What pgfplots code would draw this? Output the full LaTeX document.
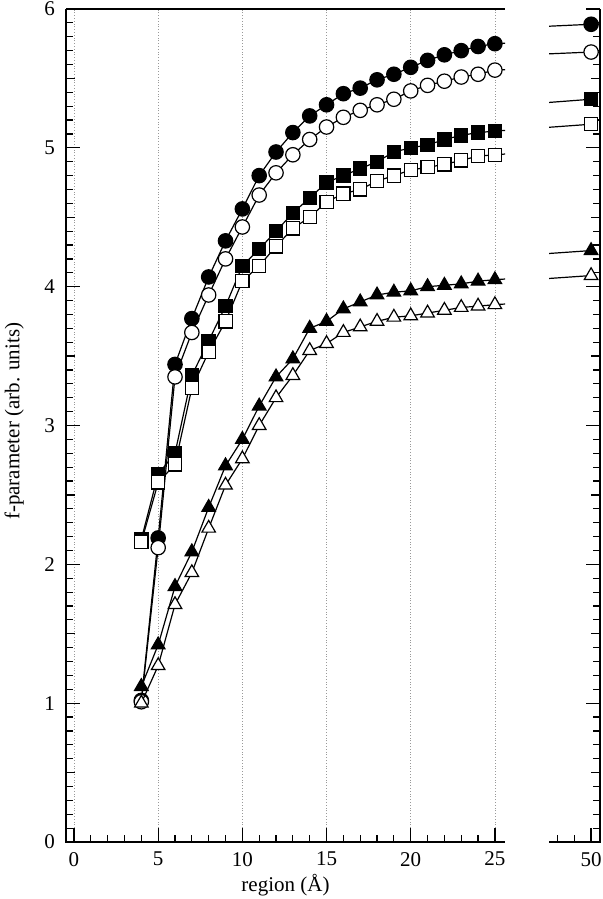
\documentclass[border=0pt]{standalone}
\usepackage{fontspec}
\setmainfont{Liberation Serif}
\usepackage{pgfplots}
\usepackage{pgfplotstable}
\pgfplotsset{compat=1.18}

\pgfplotstableread{
x fc oc fs os ft ot
4 1.02 1.01 2.18 2.16 1.12 1.00
5 2.19 2.12 2.65 2.59 1.42 1.27
6 3.44 3.35 2.80 2.72 1.84 1.71
7 3.77 3.67 3.36 3.27 2.09 1.94
8 4.07 3.94 3.61 3.53 2.41 2.26
9 4.33 4.20 3.86 3.75 2.71 2.57
10 4.56 4.43 4.15 4.04 2.90 2.76
11 4.80 4.66 4.27 4.15 3.14 3.00
12 4.97 4.82 4.40 4.29 3.35 3.20
13 5.11 4.95 4.53 4.42 3.48 3.36
14 5.23 5.06 4.64 4.50 3.70 3.54
15 5.31 5.15 4.75 4.61 3.75 3.59
16 5.39 5.22 4.80 4.67 3.84 3.67
17 5.43 5.27 4.85 4.70 3.89 3.71
18 5.49 5.31 4.90 4.76 3.94 3.75
19 5.53 5.35 4.97 4.80 3.96 3.78
20 5.58 5.41 5.00 4.84 3.97 3.79
21 5.63 5.45 5.02 4.86 4.00 3.81
22 5.67 5.48 5.06 4.88 4.01 3.83
23 5.70 5.51 5.09 4.91 4.02 3.85
24 5.73 5.53 5.11 4.94 4.04 3.86
25 5.75 5.56 5.12 4.95 4.05 3.87
50 5.89 5.69 5.35 5.17 4.26 4.08
}\data

\pgfplotsset{
  common/.style={
    scale only axis, height=416.5pt, ymin=0, ymax=6,
    ytick={0,...,6}, minor y tick num=9,
    extra y ticks={0.5,1.5,2.5,3.5,4.5,5.5},
    extra y tick labels={},
    extra y tick style={major tick length=4.5pt, grid=none},
    tick align=inside,
    major tick length=7pt, minor tick length=3.5pt,
    every tick/.style={black, line width=0.6pt},
    axis line style={draw=none},
    clip mode=individual,
    /pgf/number format/assume math mode=true,
    tick label style={font=\fontsize{10.5}{12}\selectfont},
    label style={font=\fontsize{10.5}{12}\selectfont},
  },
  fc/.style={black, line width=0.6pt, mark=*, mark size=3.6pt, mark options={solid, fill=black, line width=0.6pt}},
  oc/.style={black, line width=0.6pt, mark=*, mark size=3.6pt, mark options={solid, fill=white, line width=0.6pt}},
  fs/.style={black, line width=0.6pt, mark=square*, mark size=3.3pt, mark options={solid, fill=black, line width=0.6pt}},
  os/.style={black, line width=0.6pt, mark=square*, mark size=3.3pt, mark options={solid, fill=white, line width=0.6pt}},
  ft/.style={black, line width=0.6pt, mark=triangle*, mark size=3.9pt, mark options={solid, fill=black, line width=0.6pt}},
  ot/.style={black, line width=0.6pt, mark=triangle*, mark size=3.9pt, mark options={solid, fill=white, line width=0.6pt}},
}

\begin{document}
\begin{tikzpicture}
\useasboundingbox (-33pt,-28.5pt) rectangle (268.5pt,421pt);
\begin{axis}[common,
  width=219.5pt, xmin=-0.475, xmax=25.6,
  xtick={0,5,...,25}, minor x tick num=4,
  xtick pos=bottom, ytick pos=left,
  xmajorgrids, grid style={densely dotted, gray!80, line width=0.4pt},
  xlabel={region (Å)},
  xlabel style={at={(axis description cs:0.5,0)}, anchor=center, yshift=-21.5pt},
  ylabel={f-parameter (arb. units)},
  ylabel style={at={(axis description cs:-0.118,0.505)}, anchor=center},
  yticklabel style={xshift=-2pt},
  xticklabel style={yshift=-1.5pt},
]
\addplot[fc] table[x=x,y=fc]{\data};
\addplot[oc] table[x=x,y=oc]{\data};
\addplot[fs] table[x=x,y=fs]{\data};
\addplot[os] table[x=x,y=os]{\data};
\addplot[ft] table[x=x,y=ft]{\data};
\addplot[ot] table[x=x,y=ot]{\data};
\draw[black, line width=0.8pt] (rel axis cs:0,1) -- (rel axis cs:0,0) -- (rel axis cs:1,0);
\draw[black, line width=0.8pt] (rel axis cs:0,1) -- (rel axis cs:1,1);
\end{axis}
\begin{axis}[common, at={(241.5pt,0pt)},
  width=25.5pt, xmin=47.5, xmax=50.53,
  xtick={50}, minor xtick={48,49},
  xtick pos=bottom, ytick pos=right, yticklabels={},
  xticklabel style={yshift=-1.5pt},
]
\addplot[fc] table[x=x,y=fc]{\data};
\addplot[oc] table[x=x,y=oc]{\data};
\addplot[fs] table[x=x,y=fs]{\data};
\addplot[os] table[x=x,y=os]{\data};
\addplot[ft] table[x=x,y=ft]{\data};
\addplot[ot] table[x=x,y=ot]{\data};
\draw[black, line width=0.8pt] (rel axis cs:0,0) -- (rel axis cs:1,0) -- (rel axis cs:1,1);
\end{axis}
\end{tikzpicture}
\end{document}
